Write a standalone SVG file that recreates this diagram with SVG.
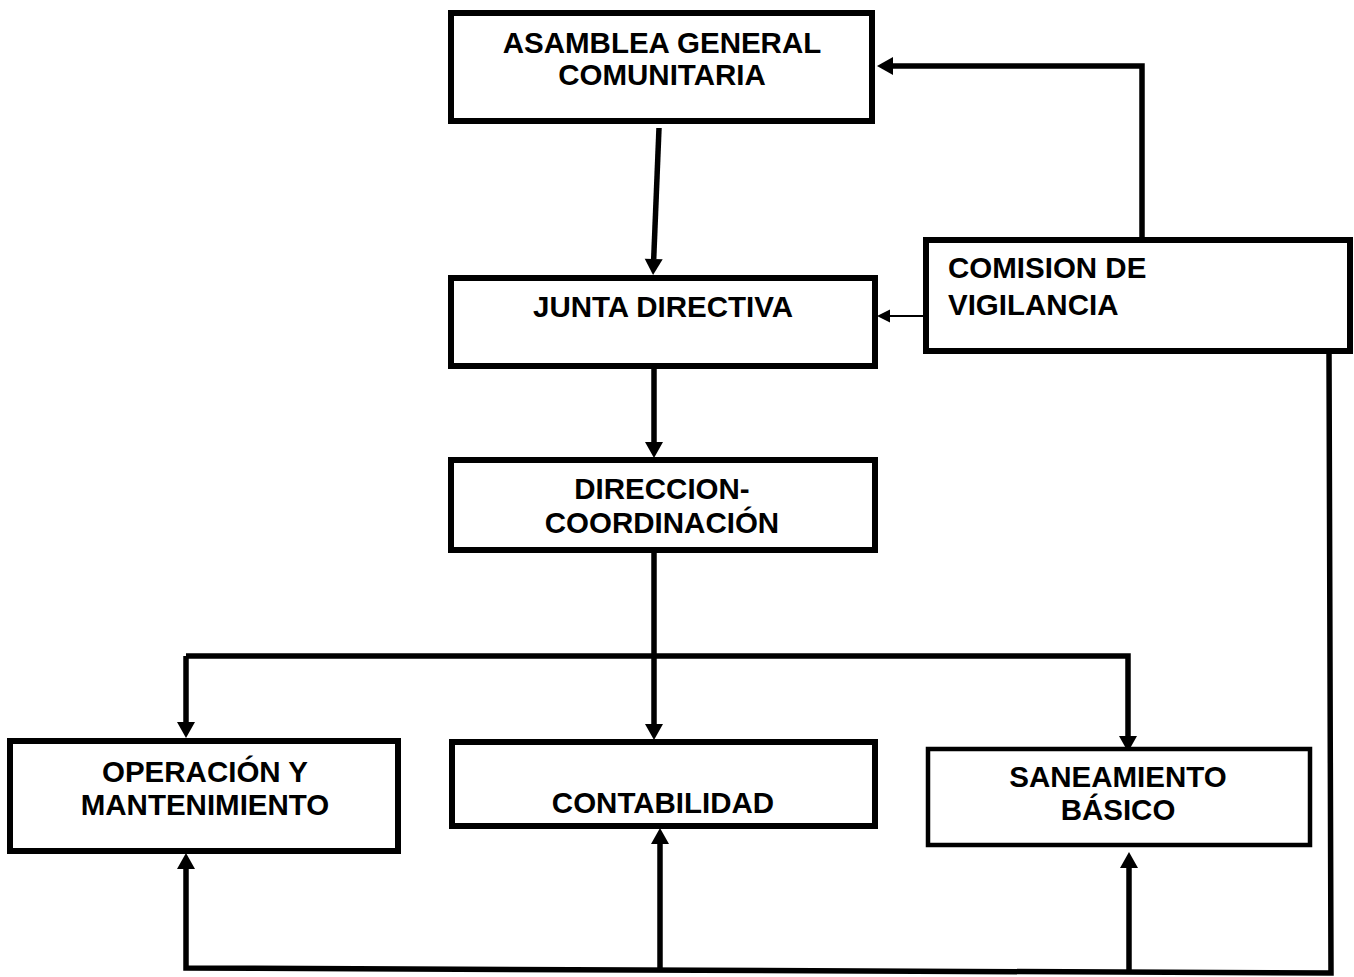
<svg xmlns="http://www.w3.org/2000/svg" width="1354" height="977" viewBox="0 0 1354 977">
<style>
.box{fill:#fff;stroke:#000;stroke-width:6}
.box-thin{fill:#fff;stroke:#000;stroke-width:4.5}
.t{font-family:"Liberation Sans",Arial,sans-serif;font-weight:bold;font-size:29.5px;fill:#000}
.c{text-anchor:middle}
.ln{fill:none;stroke:#000;stroke-width:5.5}
.thin{fill:none;stroke:#000;stroke-width:1.8}
</style>
<defs>
<marker id="ah" markerUnits="userSpaceOnUse" markerWidth="17" markerHeight="19" refX="0" refY="9" orient="auto" overflow="visible">
<path d="M0,0 L16,9 L0,18 z" fill="#000"/>
</marker>
<marker id="ahs" markerUnits="userSpaceOnUse" markerWidth="14" markerHeight="13" refX="0" refY="6.5" orient="auto" overflow="visible">
<path d="M0,0 L13,6.5 L0,13 z" fill="#000"/>
</marker>
</defs>
<rect width="1354" height="977" fill="#fff"/>
<g id="connectors">
<line class="ln" x1="659" y1="128" x2="653.7" y2="259" marker-end="url(#ah)"/>
<line class="ln" x1="654" y1="368" x2="654" y2="442" marker-end="url(#ah)"/>
<polyline class="ln" points="1142,240 1142,66 893,66" marker-end="url(#ah)"/>
<line class="thin" x1="924" y1="316" x2="890" y2="316" marker-end="url(#ahs)"/>
<line class="ln" x1="654" y1="553" x2="654" y2="724" marker-end="url(#ah)"/>
<polyline class="ln" points="186,656 1128,656 1128,736" marker-end="url(#ah)"/>
<line class="ln" x1="186" y1="656" x2="186" y2="722" marker-end="url(#ah)"/>
<polyline class="ln" points="1329,352 1331,973 186,968 186,869" marker-end="url(#ah)"/>
<line class="ln" x1="660" y1="969" x2="660" y2="844" marker-end="url(#ah)"/>
<line class="ln" x1="1129" y1="972" x2="1129" y2="868" marker-end="url(#ah)"/>
</g>
<g id="asamblea">
<rect class="box" x="451" y="13" width="421" height="108"/>
<text class="t c" x="662" y="53">ASAMBLEA GENERAL</text>
<text class="t c" x="662" y="85">COMUNITARIA</text>
</g>
<g id="junta">
<rect class="box" x="451" y="278" width="424" height="88"/>
<text class="t c" x="663" y="317">JUNTA DIRECTIVA</text>
</g>
<g id="comision">
<rect class="box" x="926" y="240" width="424" height="111"/>
<text class="t" x="948" y="278">COMISION DE</text>
<text class="t" x="948" y="315">VIGILANCIA</text>
</g>
<g id="direccion">
<rect class="box" x="451" y="460" width="424" height="90"/>
<text class="t c" x="662" y="499">DIRECCION-</text>
<text class="t c" x="662" y="533">COORDINACIÓN</text>
</g>
<g id="operacion">
<rect class="box" x="10" y="741" width="388" height="110"/>
<text class="t c" x="205" y="782">OPERACIÓN Y</text>
<text class="t c" x="205" y="815">MANTENIMIENTO</text>
</g>
<g id="contabilidad">
<rect class="box" x="452" y="742" width="423" height="84"/>
<text class="t c" x="663" y="813">CONTABILIDAD</text>
</g>
<g id="saneamiento">
<rect class="box-thin" x="928" y="749" width="382" height="96"/>
<text class="t c" x="1118" y="787">SANEAMIENTO</text>
<text class="t c" x="1118" y="820">BÁSICO</text>
</g>
</svg>
